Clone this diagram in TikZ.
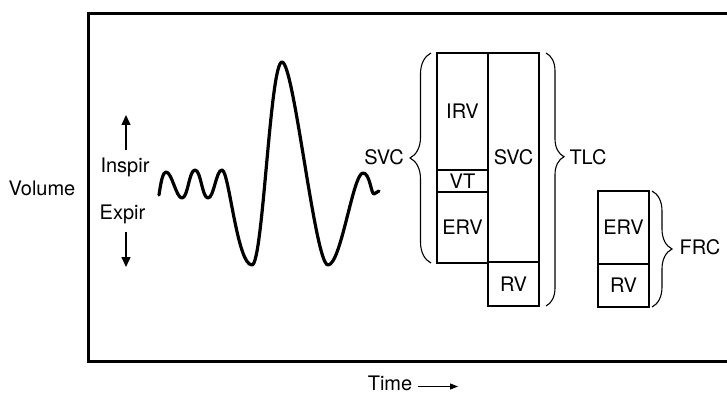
\documentclass[tikz,border=0pt]{standalone}
\usepackage{fontspec}
\setmainfont{TeX Gyre Heros}
\usetikzlibrary{arrows.meta, positioning, decorations.pathreplacing}

\tikzset{
    lbl/.style={inner sep=4pt, text height=14.4pt, text depth=0pt, font=\fontsize{20}{24}\selectfont},
    vbox/.style={lbl, draw, line width=2pt, outer sep=0pt, inner sep=0pt, minimum width=51pt},
    frame/.style={line width=3pt, line join=miter},
    wave/.style={line width=3.2pt, line cap=round, line join=round},
    brc/.style={line width=1.1pt, decorate, decoration={brace, amplitude=#1}},
    volarrow/.style={line width=1.4pt, -{Triangle[length=10pt, width=9pt]}},
    timearrow/.style={line width=1.2pt, -{Triangle[length=8pt, width=6pt]}}
}

\begin{document}
\begin{tikzpicture}[x=1pt, y=-1pt]
    \useasboundingbox (0,0) rectangle (727,395);
    \draw[frame] (731,13.5) -- (88,13.5) -- (88,361) -- (731,361); % open on the right

    \node[lbl] (volume) at (42,188) {Volume};
    \node[lbl] (inspir) at (125,165) {Inspir};
    \node[lbl] (expir) at (122.5,212) {Expir};
    \coordinate (intail) at (126,150);
    \coordinate (intip) at (126,115);
    \coordinate (extail) at (126,232);
    \coordinate (extip) at (126,267);
    \draw[volarrow] (intail) -- (intip);
    \draw[volarrow] (extail) -- (extip);

    % spirogram trace
    \draw[wave] (159,195) .. controls (161,181) and (163,172) .. (166,172)
        .. controls (172,172) and (176,198) .. (182,198)
        .. controls (188,198) and (189,170) .. (195,170)
        .. controls (201,170) and (202,198) .. (208,198)
        .. controls (214,198) and (216,170) .. (222,170)
        .. controls (229,170) and (237,265) .. (252,265)
        .. controls (263,265) and (270,62) .. (282,62)
        .. controls (294,62) and (315,265) .. (328,265)
        .. controls (341,265) and (353,173) .. (363,173)
        .. controls (370,173) and (371,194) .. (374,194)
        .. controls (376,194) and (377,191) .. (379,191);

    \node[vbox, minimum height=117pt, anchor=north west] (irv) at (437,53) {IRV};
    \node[vbox, minimum height=22pt, below=0pt of irv] (vt) {VT};
    \node[vbox, minimum height=71pt, below=0pt of vt] (erv) {ERV};
    \node[vbox, minimum height=209pt, anchor=north west] (svc) at (irv.north east) {SVC};
    \node[vbox, minimum height=44pt, below=0pt of svc] (rv) {RV};

    \node[vbox, minimum height=73pt, anchor=north west] (frcerv) at (598,191) {ERV};
    \node[vbox, minimum height=43pt, below=0pt of frcerv] (frcrv) {RV};

    \draw[brc=21pt] ([xshift=-6pt]erv.south west) -- ([xshift=-6pt]irv.north west);
    \draw[brc=18pt, decoration={aspect=0.41}] ([xshift=7pt]svc.north east) -- ([xshift=7pt]rv.south east);
    \draw[brc=20pt] ([xshift=3pt]frcerv.north east) -- ([xshift=3pt]frcrv.south east);

    \node[lbl] (svclbl) at (384,157) {SVC};
    \node[lbl] (tlc) at (588,157) {TLC};
    \node[lbl] (frc) at (700,247) {FRC};

    \node[lbl, inner sep=1pt] (time) at (390,383) {Time};
    \coordinate (timetip) at (458,386.5);
    \draw[timearrow, shorten <=5pt] (time.east |- timetip) -- (timetip);
\end{tikzpicture}
\end{document}
